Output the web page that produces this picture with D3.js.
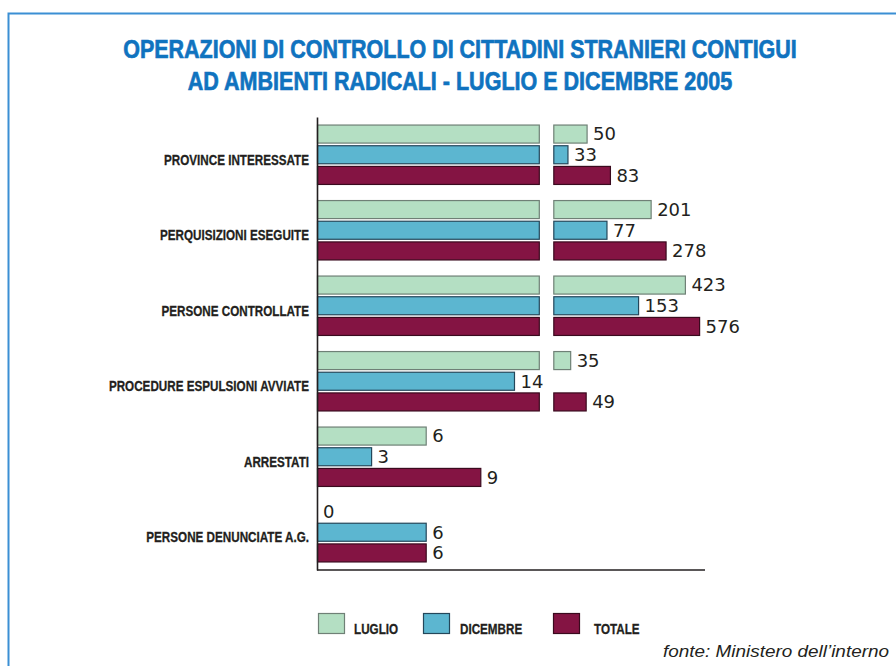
<!DOCTYPE html>
<html>
<head>
<meta charset="utf-8">
<script src="https://cdn.jsdelivr.net/npm/d3@7/dist/d3.min.js"></script>
<style>
  body { margin: 0; background: #fff; }
  svg { display: block; }
</style>
</head>
<body>
<div id="chart"></div>
<script>
// data
var categories = ["PROVINCE INTERESSATE", "PERQUISIZIONI ESEGUITE", "PERSONE CONTROLLATE",
                  "PROCEDURE ESPULSIONI AVVIATE", "ARRESTATI", "PERSONE DENUNCIATE A.G."];
var seriesNames = ["LUGLIO", "DICEMBRE", "TOTALE"];
var luglio   = [50, 201, 423, 35, 6, 0];
var dicembre = [33,  77, 153, 14, 3, 6];
var totale   = [83, 278, 576, 49, 9, 6];
var titleLines = ["OPERAZIONI DI CONTROLLO DI CITTADINI STRANIERI CONTIGUI",
                  "AD AMBIENTI RADICALI - LUGLIO E DICEMBRE 2005"];
var source = "fonte: Ministero dell\u2019interno";

var fills   = ["#b4dfc3", "#5cb6d0", "#841443"];
var strokes = ["#6f8076", "#24475a", "#3a0a1e"];
var condensed = "'Liberation Sans Narrow', 'Arial Narrow', 'Liberation Sans', Arial, sans-serif";

var W = 896, H = 666;
var margin = {top: 117, left: 317},
    width = 388,
    height = 453;

var svg = d3.select("#chart").append("svg")
    .attr("width", W)
    .attr("height", H);

// frame
svg.append("rect")
    .attr("x", 8.5).attr("y", 13.5)
    .attr("width", W + 20).attr("height", H + 20)
    .attr("fill", "none")
    .attr("stroke", "#3b8fd4")
    .attr("stroke-width", 2);

// title, squeezed horizontally to the width of the condensed face
var titleWidths = [674, 545];
svg.append("g").selectAll("text")
    .data(titleLines)
  .enter().append("text")
    .attr("text-anchor", "middle")
    .style("font-family", condensed)
    .style("font-weight", "bold")
    .style("font-size", "26.5px")
    .style("fill", "#1073bf")
    .style("stroke", "#1073bf")
    .style("stroke-width", 0.7)
    .text(function(d) { return d; })
    .each(function(d, i) {
      var s = titleWidths[i] / this.getComputedTextLength();
      d3.select(this).attr("transform", "translate(460," + (58 + i * 32) + ") scale(" + s + ",1)");
    });

var g = svg.append("g")
    .attr("transform", "translate(" + margin.left + "," + margin.top + ")");

// broken x scale: linear up to 10, log above, with a gap cut out
var xLin = d3.scaleLinear().domain([0, 10]).range([0, 182]);
var xLog = d3.scaleLog().domain([10, 1000]).range([182, 394]);
var breakValue = 24, gap = 14;
var breakLo = xLog(breakValue), breakHi = breakLo + gap;

function x(v) {
  if (v <= 10) return xLin(v);
  var p = xLog(v);
  return v > breakValue ? p + gap : p;
}

var y0 = d3.scaleBand()
    .domain(categories)
    .range([0, height])
    .paddingInner(0.2)
    .paddingOuter(0.1);

var y1 = d3.scaleBand()
    .domain(seriesNames)
    .range([0, y0.bandwidth()])
    .paddingInner(0.08);

var rows = [];
categories.forEach(function(c, i) {
  [luglio, dicembre, totale].forEach(function(arr, j) {
    rows.push({cat: c, s: seriesNames[j], j: j, v: arr[i]});
  });
});

// bars, split in two pieces when they cross the break
var bars = g.append("g").selectAll("g")
    .data(rows)
  .enter().append("g")
    .attr("transform", function(d) { return "translate(0," + (y0(d.cat) + y1(d.s)) + ")"; });

bars.filter(function(d) { return d.v > 0; }).each(function(d) {
  var sel = d3.select(this);
  var pieces = d.v > breakValue ? [[0, breakLo], [breakHi, x(d.v)]] : [[0, x(d.v)]];
  pieces.forEach(function(p) {
    sel.append("rect")
        .attr("x", p[0] + 0.5)
        .attr("y", 0.5)
        .attr("width", p[1] - p[0] - 0.5)
        .attr("height", y1.bandwidth() - 1)
        .attr("fill", fills[d.j])
        .attr("stroke", strokes[d.j])
        .attr("stroke-width", 1.2);
  });
});

bars.append("text")
    .attr("x", function(d) { return x(d.v) + 6; })
    .attr("y", y1.bandwidth() / 2)
    .attr("dy", "0.35em")
    .style("font-family", "'DejaVu Sans', sans-serif")
    .style("font-size", "18px")
    .style("fill", "#231f20")
    .text(function(d) { return d.v; });

// axes
var yAxis = g.append("g")
    .attr("class", "y axis")
    .call(d3.axisLeft(y0).tickSize(0).tickSizeOuter(0).tickPadding(8));

yAxis.select(".domain")
    .attr("stroke", "#231f20")
    .attr("stroke-width", 1.6);

var labels = yAxis.selectAll("text")
    .attr("dy", "0.66em")
    .style("font-family", condensed)
    .style("font-weight", "bold")
    .style("font-size", "15px")
    .style("fill", "#231f20")
    .style("stroke", "#231f20")
    .style("stroke-width", 0.3);

g.append("line")
    .attr("x1", 0).attr("x2", width)
    .attr("y1", height).attr("y2", height)
    .attr("stroke", "#231f20")
    .attr("stroke-width", 1.6);

// squeeze the labels so they look like the condensed face in the picture
var refWidth = labels.filter(function(d) { return d === categories[0]; }).node().getComputedTextLength();
var k = 145 / refWidth;
labels.each(function() {
  var w = this.getComputedTextLength();
  d3.select(this).attr("textLength", w * k).attr("lengthAdjust", "spacingAndGlyphs");
});

// legend
var legendX = [318, 423, 553], legendTextX = [354, 460, 594];
var legend = svg.append("g").selectAll("g")
    .data(seriesNames)
  .enter().append("g");

legend.append("rect")
    .attr("x", function(d, i) { return legendX[i] + 0.5; })
    .attr("y", 613.5)
    .attr("width", 26)
    .attr("height", 20)
    .attr("fill", function(d, i) { return fills[i]; })
    .attr("stroke", function(d, i) { return strokes[i]; })
    .attr("stroke-width", 1.2);

legend.append("text")
    .attr("x", function(d, i) { return legendTextX[i]; })
    .attr("y", 634)
    .style("font-family", condensed)
    .style("font-weight", "bold")
    .style("font-size", "15px")
    .style("fill", "#231f20")
    .style("stroke", "#231f20")
    .style("stroke-width", 0.3)
    .text(function(d) { return d; })
    .each(function() {
      var w = this.getComputedTextLength();
      d3.select(this).attr("textLength", w * k).attr("lengthAdjust", "spacingAndGlyphs");
    });

svg.append("text")
    .attr("x", 889)
    .attr("y", 657)
    .attr("text-anchor", "end")
    .attr("textLength", 226)
    .attr("lengthAdjust", "spacingAndGlyphs")
    .style("font-family", "'Liberation Sans', Arial, sans-serif")
    .style("font-style", "italic")
    .style("font-size", "17px")
    .style("fill", "#231f20")
    .text(source);
</script>
</body>
</html>
